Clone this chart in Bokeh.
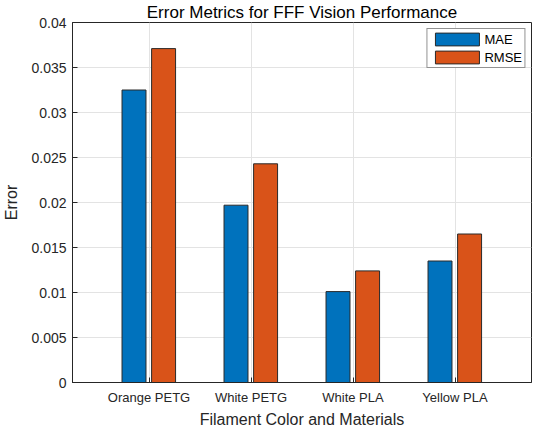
import numpy as np
from bokeh.plotting import figure
from bokeh.models import ColumnDataSource, FixedTicker, Range1d
from bokeh.transform import dodge
from bokeh.embed import file_html
from bokeh.resources import INLINE

# values
materials = ["Orange PETG", "White PETG", "White PLA", "Yellow PLA"]
mae = [0.0325, 0.0197, 0.0101, 0.0135]
rmse = [0.0371, 0.0243, 0.0124, 0.0165]
y_ticks = [0, 0.005, 0.01, 0.015, 0.02, 0.025, 0.03, 0.035, 0.04]
y_tick_labels = ["0", "0.005", "0.01", "0.015", "0.02", "0.025", "0.03", "0.035", "0.04"]

FONT = "Liberation Sans"
AX = "#262626"
pos = list(range(1, len(materials) + 1))
source = ColumnDataSource(data=dict(x=pos, mae=mae, rmse=rmse))

p = figure(width=534, height=430, x_range=Range1d(0.25, 4.75), y_range=Range1d(0, 0.04),
           output_backend="svg", toolbar_location=None,
           min_border_left=60, min_border_right=3, min_border_top=15, min_border_bottom=0)

p.title.text = "Error Metrics for FFF Vision Performance"
p.title.align = "center"
p.title.text_font = FONT
p.title.text_font_size = "17px"
p.title.text_font_style = "normal"
p.title.text_color = "#000000"
p.title.standoff = 1

p.vbar(x=dodge("x", -0.147, range=p.x_range), top="mae", width=0.235, source=source,
       fill_color="#0072BD", line_color="#2a2a2a", line_width=1, legend_label="MAE")
p.vbar(x=dodge("x", 0.143, range=p.x_range), top="rmse", width=0.235, source=source,
       fill_color="#D95319", line_color="#2a2a2a", line_width=1, legend_label="RMSE")

p.xaxis.ticker = FixedTicker(ticks=pos)
p.xaxis.major_label_overrides = {i: m for i, m in zip(pos, materials)}
p.yaxis.ticker = FixedTicker(ticks=y_ticks)
p.yaxis.major_label_overrides = {t: s for t, s in zip(y_ticks, y_tick_labels)}
p.xaxis.axis_label = "Filament Color and Materials"
p.yaxis.axis_label = "Error"

for ax in [p.xaxis[0], p.yaxis[0]]:
    ax.axis_line_color = AX
    ax.major_tick_line_color = AX
    ax.major_tick_in = 5
    ax.major_tick_out = 0
    ax.minor_tick_line_color = None
    ax.major_label_text_font = FONT
    ax.major_label_text_color = AX
    ax.axis_label_text_font = FONT
    ax.axis_label_text_font_size = "16px"
    ax.axis_label_text_font_style = "normal"
    ax.axis_label_text_color = AX
p.xaxis.major_label_text_font_size = "13px"
p.yaxis.major_label_text_font_size = "14px"
p.xaxis.major_label_standoff = 7
p.xaxis.axis_label_standoff = 3
p.yaxis.major_label_standoff = 6
p.yaxis.axis_label_standoff = 8

p.xgrid.grid_line_color = "#e3e3e3"
p.ygrid.grid_line_color = "#e3e3e3"
p.outline_line_color = AX
p.outline_line_alpha = 1

p.legend.location = "top_right"
p.legend.margin = 6
p.legend.padding = 2
p.legend.spacing = 2
p.legend.glyph_width = 55
p.legend.glyph_height = 16
p.legend.label_standoff = 0
p.legend.label_text_font = FONT
p.legend.label_text_font_size = "13px"
p.legend.label_text_color = "#000000"
p.legend.border_line_color = AX
p.legend.border_line_width = 1
p.legend.background_fill_alpha = 1

open("out.html", "w").write(file_html(p, INLINE))
